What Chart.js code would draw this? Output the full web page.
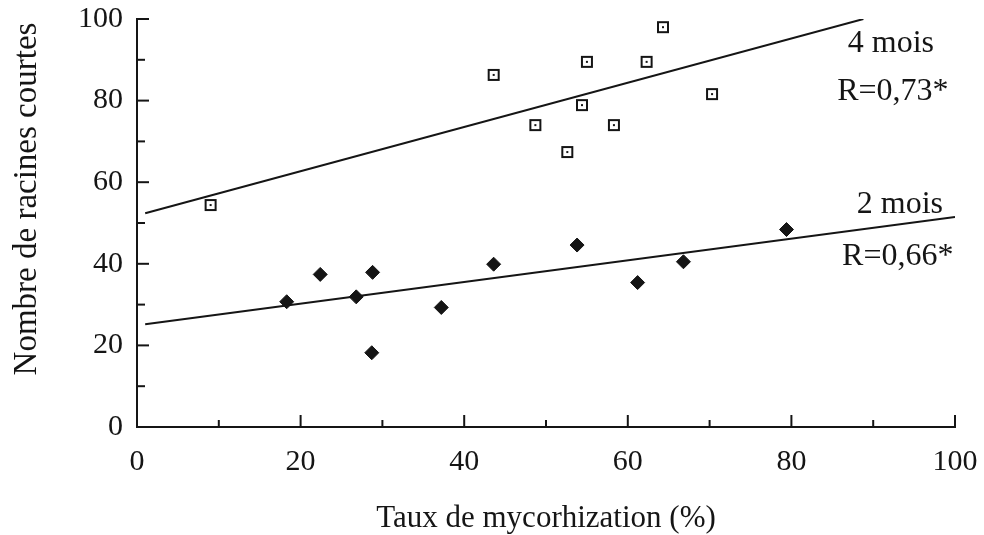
<!DOCTYPE html>
<html>
<head>
<meta charset="utf-8">
<script src="https://cdn.jsdelivr.net/npm/chart.js@4.4.1/dist/chart.umd.min.js"></script>
<style>
  html, body { margin: 0; padding: 0; background: #fff; }
</style>
</head>
<body>
<canvas id="chart" width="984" height="535"></canvas>
<script>
// Taux de mycorhization (%) / nombre de racines courtes
const mois4X = [9, 43.6, 48.7, 52.6, 54.4, 55, 58.3, 62.3, 64.3, 70.3];
const mois4Y = [54.4, 86.3, 74, 67.4, 78.9, 89.5, 74, 89.5, 98, 81.6];
const mois2X = [18.3, 22.4, 26.8, 28.8, 28.7, 37.2, 43.6, 53.8, 61.2, 66.8, 79.4];
const mois2Y = [30.7, 37.4, 31.9, 37.9, 18.2, 29.3, 39.9, 44.6, 35.4, 40.5, 48.4];

// droites de régression (extrémités)
const droite4X = [1, 88.8];
const droite4Y = [52.4, 100];
const droite2X = [1, 100];
const droite2Y = [25.2, 51.5];

const xLabels = [0, 20, 40, 60, 80, 100];
const yLabels = [0, 20, 40, 60, 80, 100];
const etiquettes = ['4 mois', 'R=0,73*', '2 mois', 'R=0,66*'];

const police = '"Liberation Serif", "Times New Roman", serif';
const encre = '#151515';

function points(xs, ys) {
    return xs.map((x, i) => ({ x: x, y: ys[i] }));
}

// petit carré ouvert avec un point au centre
function carre() {
    const c = document.createElement('canvas');
    c.width = 14;
    c.height = 14;
    const g = c.getContext('2d');
    g.fillStyle = '#fff';
    g.fillRect(1, 1, 12, 12);
    g.strokeStyle = encre;
    g.lineWidth = 2;
    g.strokeRect(2, 2, 10, 10);
    g.fillStyle = encre;
    g.fillRect(6, 6, 2, 2);
    return c;
}

// graduations vers l'intérieur, étiquettes et titre vertical
const habillage = {
    id: 'habillage',
    afterDraw(chart) {
        const { ctx, chartArea, scales } = chart;
        ctx.save();
        ctx.strokeStyle = encre;
        ctx.lineWidth = 2;
        scales.x.ticks.forEach(t => {
            const px = scales.x.getPixelForValue(t.value);
            const len = t.value % 20 === 0 ? 12 : 7;
            ctx.beginPath();
            ctx.moveTo(px, chartArea.bottom);
            ctx.lineTo(px, chartArea.bottom - len);
            ctx.stroke();
        });
        scales.y.ticks.forEach(t => {
            const py = scales.y.getPixelForValue(t.value);
            const len = t.value % 20 === 0 ? 12 : 8;
            ctx.beginPath();
            ctx.moveTo(chartArea.left, py);
            ctx.lineTo(chartArea.left + len, py);
            ctx.stroke();
        });

        ctx.fillStyle = encre;
        ctx.font = '32px ' + police;
        ctx.textAlign = 'left';
        ctx.textBaseline = 'alphabetic';
        const pos = [[86.9, 91.9], [85.6, 80.1], [88, 52.5], [86.2, 39.7]];
        etiquettes.forEach((txt, i) => {
            ctx.fillText(txt, scales.x.getPixelForValue(pos[i][0]), scales.y.getPixelForValue(pos[i][1]));
        });

        ctx.font = '33px ' + police;
        ctx.textAlign = 'center';
        ctx.translate(36, 199);
        ctx.rotate(-Math.PI / 2);
        ctx.fillText('Nombre de racines courtes', 0, 0);
        ctx.restore();
    }
};

const tickFont = { family: police, size: 30 };

new Chart(document.getElementById('chart'), {
    type: 'scatter',
    data: {
        datasets: [
            {
                label: 'droite 4 mois',
                data: points(droite4X, droite4Y),
                showLine: true,
                borderColor: encre,
                borderWidth: 2,
                pointRadius: 0
            },
            {
                label: 'droite 2 mois',
                data: points(droite2X, droite2Y),
                showLine: true,
                borderColor: encre,
                borderWidth: 2,
                pointRadius: 0
            },
            {
                label: '4 mois',
                data: points(mois4X, mois4Y),
                pointStyle: carre(),
                pointRadius: 7
            },
            {
                label: '2 mois',
                data: points(mois2X, mois2Y),
                pointStyle: 'rectRot',
                pointRadius: 7,
                backgroundColor: encre,
                borderColor: encre,
                borderWidth: 1
            }
        ]
    },
    options: {
        responsive: false,
        animation: false,
        layout: { padding: { left: 0, right: 29, top: 19, bottom: 0 } },
        plugins: {
            legend: { display: false },
            tooltip: { enabled: false }
        },
        scales: {
            x: {
                type: 'linear',
                min: 0,
                max: 100,
                ticks: {
                    stepSize: 10,
                    autoSkip: false,
                    maxRotation: 0,
                    padding: 17,
                    color: encre,
                    font: tickFont,
                    callback: v => xLabels.includes(v) ? String(v) : ''
                },
                grid: { drawOnChartArea: false, drawTicks: false },
                border: { color: encre, width: 2 },
                title: {
                    display: true,
                    text: 'Taux de mycorhization (%)',
                    color: encre,
                    font: { family: police, size: 31 },
                    padding: { top: 0, bottom: -2 }
                },
                afterFit: s => {
                    s.height = 108;
                    s.paddingLeft = 0;
                    s.paddingRight = 0;
                }
            },
            y: {
                type: 'linear',
                min: 0,
                max: 100,
                ticks: {
                    stepSize: 10,
                    autoSkip: false,
                    padding: 14,
                    color: encre,
                    font: tickFont,
                    callback: v => yLabels.includes(v) ? String(v) : ''
                },
                grid: { drawOnChartArea: false, drawTicks: false },
                border: { color: encre, width: 2 },
                afterFit: s => {
                    s.width = 137;
                    s.paddingTop = 0;
                    s.paddingBottom = 0;
                }
            }
        }
    },
    plugins: [habillage]
});
</script>
</body>
</html>
